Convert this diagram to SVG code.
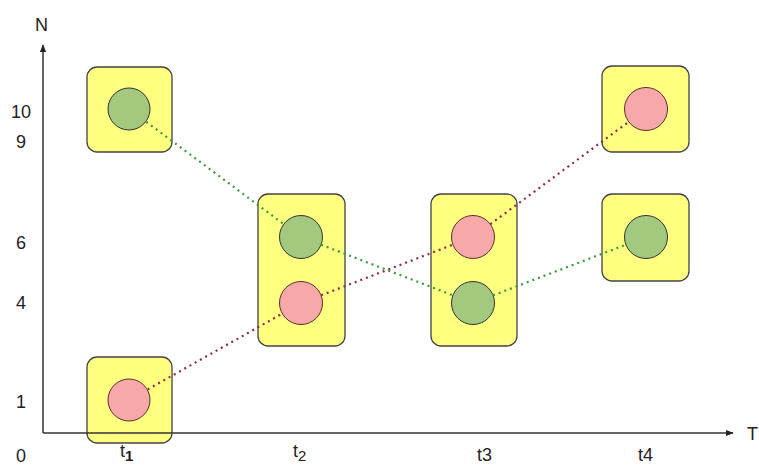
<svg xmlns="http://www.w3.org/2000/svg" width="759" height="465" viewBox="0 0 759 465">
<style>
.box{fill:#ffff80;stroke:#444;stroke-width:1.3}
.g{fill:#a3c97f;stroke:#333;stroke-width:1}
.p{fill:#f7a8a8;stroke:#5a3030;stroke-width:1}
.lg{stroke:#3a9a3a;stroke-width:2.2;stroke-dasharray:2 4;fill:none}
.lp{stroke:#8a2d4a;stroke-width:2.2;stroke-dasharray:2 4;fill:none}
.ax{stroke:#333;stroke-width:1.5;fill:none}
text{font-family:"Liberation Sans",Arial,sans-serif;font-size:18px;fill:#222}
.n{text-anchor:middle}
</style>
<defs>
<marker id="arr" viewBox="0 0 10 10" refX="9" refY="5" markerWidth="8" markerHeight="8" markerUnits="userSpaceOnUse" orient="auto">
<path d="M0,1 L10,5 L0,9 Z" fill="#222"/>
</marker>
</defs>
<g id="box1"><rect class="box" x="87" y="67" width="85" height="85" rx="10"/><circle class="g" cx="129" cy="109" r="21"/></g>
<g id="box1b"><rect class="box" x="87" y="357" width="85" height="86" rx="10"/><circle class="p" cx="129" cy="400" r="21"/></g>
<g id="box2"><rect class="box" x="258" y="194" width="87" height="152" rx="10"/><circle class="g" cx="301" cy="237" r="21.5"/><circle class="p" cx="301" cy="303" r="21.5"/></g>
<g id="box3"><rect class="box" x="431" y="194" width="86" height="152" rx="10"/><circle class="p" cx="473" cy="237" r="21.5"/><circle class="g" cx="473" cy="303" r="21.5"/></g>
<g id="box4"><rect class="box" x="602" y="66" width="87" height="86" rx="10"/><circle class="p" cx="646" cy="109" r="21.5"/></g>
<g id="box5"><rect class="box" x="602" y="194" width="87" height="87" rx="10"/><circle class="g" cx="646" cy="237" r="21.5"/></g>
<g id="axes">
<line class="ax" x1="43" y1="433" x2="43" y2="45" marker-end="url(#arr)"/>
<line class="ax" x1="43" y1="433" x2="733" y2="433" marker-end="url(#arr)"/>
<text x="35" y="31">N</text>
<text x="747" y="440">T</text>
<text class="n" x="21" y="118">10</text>
<text class="n" x="21" y="148">9</text>
<text class="n" x="21" y="249">6</text>
<text class="n" x="21" y="309">4</text>
<text class="n" x="21" y="408">1</text>
<text class="n" x="21" y="462">0</text>
<text x="120" y="457">t<tspan font-size="15" font-weight="bold" dy="4">1</tspan></text>
<text x="293" y="457">t<tspan font-size="15" dy="4">2</tspan></text>
<text x="477" y="461">t3</text>
<text x="638" y="461">t4</text>
</g>
<g id="connectors">
<line class="lg" x1="146.2" y1="121.8" x2="283.8" y2="224.2"/>
<line class="lg" x1="321.1" y1="244.7" x2="452.9" y2="295.3"/>
<line class="lg" x1="493.1" y1="295.3" x2="625.9" y2="244.7"/>
<line class="lp" x1="147.7" y1="389.4" x2="282.3" y2="313.6"/>
<line class="lp" x1="321.1" y1="295.3" x2="452.9" y2="244.7"/>
<line class="lp" x1="490.3" y1="224.2" x2="628.7" y2="121.8"/>
</g>
</svg>
